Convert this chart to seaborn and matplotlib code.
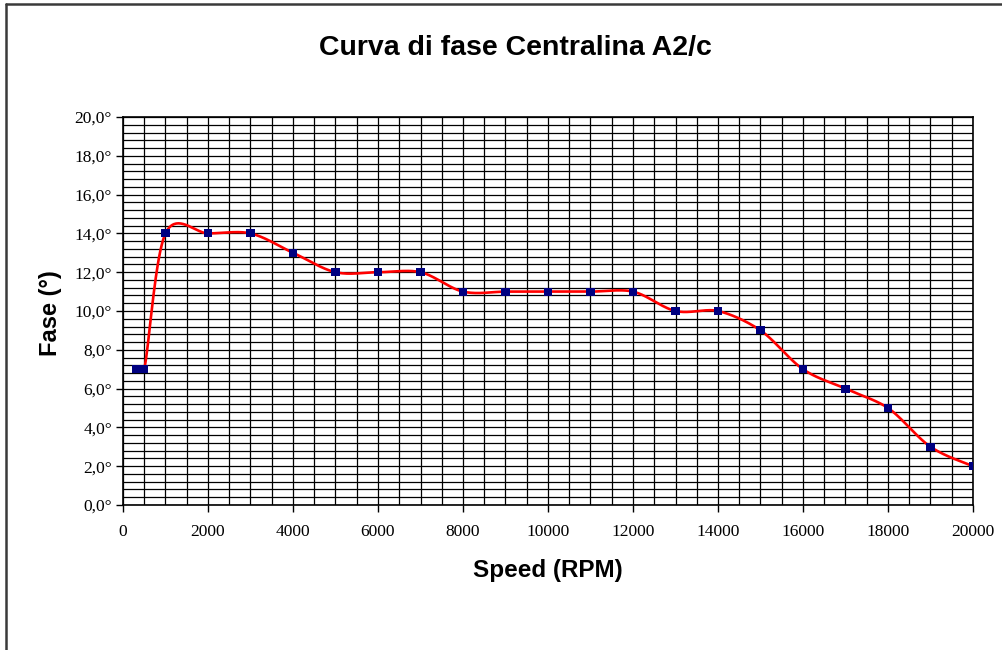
import numpy as np
import pandas as pd
import matplotlib
matplotlib.use("Agg")
import matplotlib.pyplot as plt
from matplotlib.ticker import MultipleLocator, FuncFormatter
from matplotlib.lines import Line2D
import seaborn as sns

# ---- data ----
speed_rpm = [300, 500, 1000, 2000, 3000, 4000, 5000, 6000, 7000, 8000, 9000, 10000,
             11000, 12000, 13000, 14000, 15000, 16000, 17000, 18000, 19000, 20000]
fase_deg = [7, 7, 14, 14, 14, 13, 12, 12, 12, 11, 11, 11,
            11, 11, 10, 10, 9, 7, 6, 5, 3, 2]
title = "Curva di fase Centralina A2/c"
xlabel = "Speed (RPM)"
ylabel = "Fase (°)"
x_ticks = [0, 2000, 4000, 6000, 8000, 10000, 12000, 14000, 16000, 18000, 20000]
y_ticks = [0, 2, 4, 6, 8, 10, 12, 14, 16, 18, 20]

sns.set_theme(style="white")
plt.rcParams['font.family'] = ['Liberation Sans', 'DejaVu Sans']
plt.rcParams['text.color'] = 'black'
plt.rcParams['axes.labelcolor'] = 'black'

W, H = 1003, 650
fig = plt.figure(figsize=(W / 100, H / 100), dpi=100)
ax_l, ax_r, ax_t, ax_b = 123, 973, 117, 505
ax = fig.add_axes([ax_l / W, 1 - ax_b / H, (ax_r - ax_l) / W, (ax_b - ax_t) / H])

xmin, xmax, ymin, ymax = 0, 20000, 0, 20

# Excel-like smoothed line (Bezier in screen space, control arms clamped)
sx = (ax_r - ax_l) / (xmax - xmin)
sy = (ax_b - ax_t) / (ymax - ymin)
P = np.column_stack([np.array(speed_rpm) * sx, np.array(fase_deg) * sy])
n = len(P)
pts = []
t = np.linspace(0, 1, 40)


def clamp(v, lim):
    L = np.hypot(*v)
    return v if L <= lim or L == 0 else v * (lim / L)


for i in range(n - 1):
    p0 = P[i - 1] if i > 0 else P[i]
    p1, p2 = P[i], P[i + 1]
    p3 = P[i + 2] if i + 2 < n else P[i + 1]
    seglen = np.hypot(*(p2 - p1))
    c1 = p1 + clamp((p2 - p0) / 6, seglen * 0.6)
    c2 = p2 - clamp((p3 - p1) / 6, seglen * 0.3)
    seg = ((1 - t) ** 3)[:, None] * p1 + (3 * (1 - t) ** 2 * t)[:, None] * c1 \
        + (3 * (1 - t) * t ** 2)[:, None] * c2 + (t ** 3)[:, None] * p2
    pts.append(seg if i == 0 else seg[1:])
curve = np.vstack(pts)
curve_df = pd.DataFrame({"x": curve[:, 0] / sx, "y": curve[:, 1] / sy})
pts_df = pd.DataFrame({"speed": speed_rpm, "fase": fase_deg})

sns.lineplot(data=curve_df, x="x", y="y", sort=False, color="#ff0000",
             linewidth=1.9, ax=ax, zorder=4)
sns.scatterplot(data=pts_df, x="speed", y="fase", marker="s", s=34, color="#000080",
                edgecolor="none", ax=ax, zorder=5)

ax.set_xlim(xmin, xmax)
ax.set_ylim(ymin, ymax)
ax.set_xticks(x_ticks)
ax.set_yticks(y_ticks)
ax.xaxis.set_minor_locator(MultipleLocator(500))
ax.yaxis.set_minor_locator(MultipleLocator(0.4))
ax.yaxis.set_major_formatter(FuncFormatter(lambda v, p: f"{v:.1f}".replace(".", ",") + "°"))
ax.xaxis.set_major_formatter(FuncFormatter(lambda v, p: f"{int(v)}"))

ax.grid(True, which="both", color="black", linewidth=0.9)
ax.set_axisbelow(True)
for s in ax.spines.values():
    s.set_color("black")
    s.set_linewidth(1.2)

ax.tick_params(axis="both", which="major", direction="out", length=5, width=1.0,
               color="black", labelcolor="black", bottom=True, left=True)
ax.tick_params(axis="x", which="major", pad=9)
ax.tick_params(axis="y", which="major", pad=3)
ax.tick_params(which="minor", length=0)
for lab in ax.get_xticklabels() + ax.get_yticklabels():
    lab.set_family(["Liberation Serif", "DejaVu Serif"])
    lab.set_fontsize(12.5)

ax.set_xlabel(xlabel, fontsize=17.5, fontweight="bold")
ax.set_ylabel(ylabel, fontsize=17, fontweight="bold")
ax.xaxis.label.set_va("center")
ax.yaxis.label.set_va("center")
ax.xaxis.set_label_coords(0.5, -(571 - ax_b) / (ax_b - ax_t))
ax.yaxis.set_label_coords(-(ax_l - 50) / (ax_r - ax_l), 0.5 - (313 - 311) / (ax_b - ax_t))
fig.text(515 / W, 1 - 48 / H, title, fontsize=20.5, fontweight="bold",
         ha="center", va="center")

# chart area border (Excel chart frame, extends beyond the image on right/bottom)
fig.add_artist(Line2D([6.5 / W, 6.5 / W], [0, 1 - 3.5 / H], transform=fig.transFigure,
                      color="#3a3a3a", linewidth=1.8))
fig.add_artist(Line2D([6.5 / W, 1], [1 - 3.5 / H, 1 - 3.5 / H], transform=fig.transFigure,
                      color="#3a3a3a", linewidth=1.8))

fig.savefig("out.png", dpi=100)
